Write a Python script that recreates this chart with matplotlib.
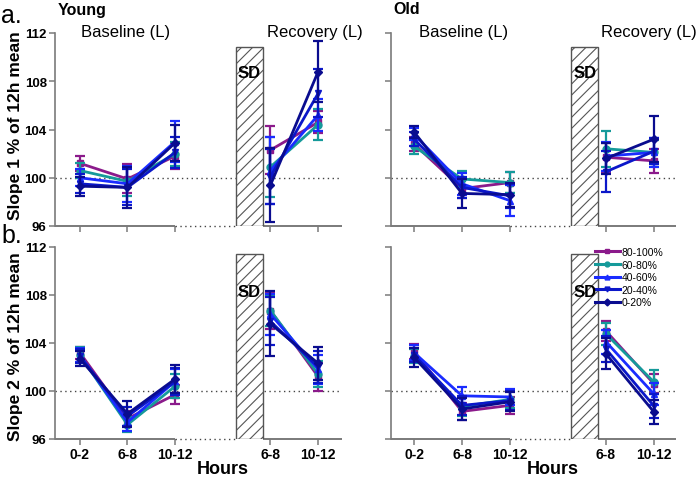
import matplotlib
matplotlib.use('Agg')
import matplotlib.pyplot as plt
from matplotlib.patches import Rectangle
from matplotlib.lines import Line2D

plt.rcParams['font.family'] = ['Liberation Sans', 'DejaVu Sans']
plt.rcParams['hatch.color'] = '#555555'
plt.rcParams['hatch.linewidth'] = 0.8

# ---------------- data ----------------
groups = ['80-100%', '60-80%', '40-60%', '20-40%', '0-20%']
colors = ['#8b1a8b', '#159a9a', '#1a2cff', '#0b17c9', '#0a0c8f']
markers = ['s', 'o', '^', 'v', 'D']
tick_labels = ['0-2', '6-8', '10-12', '6-8', '10-12']
x_base = [0, 1, 2]
x_rec = [4, 5]
yticks = [96, 100, 104, 108, 112]

# each row: [BL 0-2, BL 6-8, BL 10-12, REC 6-8, REC 10-12]
young_s1 = [
    [101.2, 99.9, 101.8, 102.3, 104.6],
    [100.6, 99.7, 102.0, 100.9, 104.4],
    [100.0, 99.5, 103.0, 100.6, 105.2],
    [99.5, 99.2, 102.1, 100.1, 107.0],
    [99.3, 99.2, 102.9, 99.4, 108.8],
]
young_s1_err = [
    [0.6, 1.2, 1.1, 2.0, 0.9],
    [0.6, 1.2, 1.0, 2.5, 1.3],
    [0.7, 1.5, 1.7, 2.8, 1.3],
    [0.8, 1.5, 1.3, 2.3, 2.0],
    [0.8, 1.7, 1.5, 3.1, 2.5],
]
old_s1 = [
    [102.8, 99.1, 99.6, 101.7, 101.4],
    [102.6, 99.9, 99.6, 102.4, 102.1],
    [103.6, 99.5, 98.1, 101.8, 102.1],
    [103.2, 99.2, 98.5, 100.5, 102.2],
    [103.8, 98.7, 98.6, 101.6, 103.2],
]
old_s1_err = [
    [0.6, 0.8, 0.9, 1.2, 1.0],
    [0.6, 0.7, 0.9, 1.5, 1.0],
    [0.5, 0.9, 1.3, 1.2, 1.2],
    [0.6, 0.9, 1.0, 1.7, 1.1],
    [0.5, 1.2, 1.0, 1.3, 1.9],
]
young_s2 = [
    [103.2, 97.7, 99.7, 106.7, 101.2],
    [103.0, 97.2, 100.4, 106.7, 101.4],
    [103.0, 97.4, 100.8, 106.4, 101.8],
    [102.9, 97.9, 100.8, 105.8, 102.0],
    [102.7, 98.1, 101.0, 105.6, 102.3],
]
young_s2_err = [
    [0.5, 0.6, 0.8, 1.5, 1.2],
    [0.7, 0.6, 1.0, 1.3, 1.1],
    [0.6, 0.7, 1.0, 1.7, 1.2],
    [0.6, 0.8, 1.1, 2.0, 1.3],
    [0.6, 1.1, 1.2, 2.7, 1.4],
]
old_s2 = [
    [103.3, 98.3, 98.8, 105.0, 100.6],
    [102.9, 98.7, 99.3, 104.75, 100.75],
    [103.2, 99.6, 99.5, 104.1, 99.75],
    [103.0, 98.8, 99.2, 103.5, 98.75],
    [102.8, 98.5, 99.1, 103.1, 98.25],
]
old_s2_err = [
    [0.6, 0.7, 0.7, 0.8, 0.8],
    [0.6, 0.8, 0.7, 0.9, 1.0],
    [0.6, 0.7, 0.7, 1.0, 0.9],
    [0.6, 0.8, 0.8, 1.1, 1.0],
    [0.8, 0.9, 0.8, 1.3, 1.0],
]
sd_left, sd_right = 3.27, 3.84
sd_top = [110.8, 111.4]      # top row, bottom row
sd_text_y = [108.7, 108.3]

# ---------------- figure ----------------
W, H = 700, 481
fig = plt.figure(figsize=(W / 100, H / 100), dpi=100)


def px_axes(x0, y0, x1, y1):
    return fig.add_axes([x0 / W, 1 - y1 / H, (x1 - x0) / W, (y1 - y0) / H])


axes = {
    (0, 0): (px_axes(55, 34, 342, 227), young_s1, young_s1_err, (-0.52, 5.5)),
    (0, 1): (px_axes(391, 34, 676, 227), old_s1, old_s1_err, (-0.48, 5.46)),
    (1, 0): (px_axes(55, 248, 342, 440), young_s2, young_s2_err, (-0.52, 5.5)),
    (1, 1): (px_axes(391, 248, 676, 440), old_s2, old_s2_err, (-0.48, 5.46)),
}

spine_col = '#7a7a7a'
for (r, c), (ax, means, errs, xl) in axes.items():
    ax.set_xlim(*xl)
    ax.set_ylim(96, 112)
    for s in ['top', 'right', 'bottom']:
        ax.spines[s].set_visible(False)
    ax.spines['left'].set_color(spine_col)
    ax.spines['left'].set_linewidth(1.2)
    ax.set_yticks(yticks)
    ax.set_xticks(x_base + x_rec)
    ax.tick_params(axis='both', direction='out', length=4, width=1.1,
                   color=spine_col, labelsize=9.5, pad=2)
    ax.tick_params(axis='x', labelsize=10)
    if r == 0:
        ax.set_xticklabels([])
    else:
        ax.set_xticklabels(tick_labels, fontweight='bold')
    if c == 1:
        ax.set_yticklabels([])
    else:
        ax.set_yticklabels([str(v) for v in yticks], fontweight='bold')

    # reference line at 100
    ax.axhline(100, color='#444444', lw=1.0, ls=(0, (1, 2.5)), zorder=1)
    # bottom axis: solid / dotted / solid
    ax.plot([xl[0], x_base[-1]], [96, 96], color=spine_col, lw=1.4,
            clip_on=False, zorder=3, solid_capstyle='butt')
    ax.plot([x_base[-1], sd_left], [96, 96], color='#444444', lw=1.0,
            ls=(0, (1, 2.5)), clip_on=False, zorder=3)
    ax.plot([sd_right, xl[1]], [96, 96], color=spine_col, lw=1.4,
            clip_on=False, zorder=3, solid_capstyle='butt')

    # SD bar
    ax.add_patch(Rectangle((sd_left, 96), sd_right - sd_left, sd_top[r] - 96,
                           facecolor='white', edgecolor='#555555', lw=1.0,
                           hatch='///', zorder=4))
    ax.text((sd_left + sd_right) / 2, sd_text_y[r], 'SD', ha='center',
            va='center', fontsize=12, fontweight='bold', zorder=6)

    for i in range(len(groups)):
        m = means[i]
        e = errs[i]
        kw = dict(color=colors[i], marker=markers[i],
                  markersize=5 if markers[i] != 'D' else 4.5,
                  lw=2.0, elinewidth=1.6, capsize=3.6, capthick=1.6, zorder=10 + i)
        ax.errorbar(x_base, m[:3], yerr=e[:3], **kw)
        ax.errorbar(x_rec, m[3:], yerr=e[3:], **kw)

# legend in bottom-right panel (line + marker only)
axL = axes[(1, 1)][0]
handles = [Line2D([], [], color=colors[i], marker=markers[i], lw=2.2,
                  markersize=3.5) for i in range(len(groups))]
axL.legend(handles, groups, loc='upper left', bbox_to_anchor=(0.715, 1.0),
           frameon=False, fontsize=7.5, borderpad=0, borderaxespad=0,
           handlelength=2.4, handletextpad=0.15, labelspacing=0.25)


# texts
def ftext(x, y, s, **kw):
    fig.text(x / W, 1 - y / H, s, **kw)


ftext(1, 16, 'a.', fontsize=18, va='center', ha='left')
ftext(1, 236, 'b.', fontsize=18, va='center', ha='left')
ftext(58, 10, 'Young', fontsize=11.5, fontweight='bold', va='center', ha='left')
ftext(393, 9, 'Old', fontsize=11.5, fontweight='bold', va='center', ha='left')
ftext(126, 32, 'Baseline (L)', fontsize=12, va='center', ha='center')
ftext(315, 32, 'Recovery (L)', fontsize=12, va='center', ha='center')
ftext(464, 32, 'Baseline (L)', fontsize=12, va='center', ha='center')
ftext(649, 32, 'Recovery (L)', fontsize=12, va='center', ha='center')
ftext(223, 470, 'Hours', fontsize=13, fontweight='bold', va='center', ha='center')
ftext(553, 470, 'Hours', fontsize=13, fontweight='bold', va='center', ha='center')
ftext(16, 126, 'Slope 1 % of 12h mean', fontsize=12.5, fontweight='bold',
      rotation=90, va='center', ha='center')
ftext(16, 347, 'Slope 2 % of 12h mean', fontsize=12.5, fontweight='bold',
      rotation=90, va='center', ha='center')

fig.savefig('out.png', dpi=100)
